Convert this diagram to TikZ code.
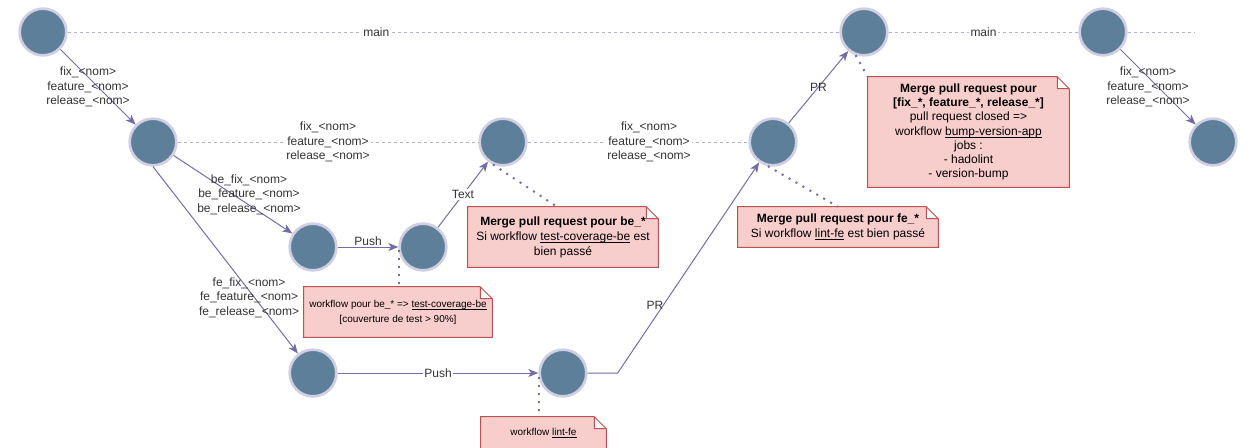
\documentclass[tikz,border=0pt]{standalone}
\usepackage{fontspec}
\setmainfont{Liberation Sans}
\usetikzlibrary{arrows.meta,calc,backgrounds}

\definecolor{commitfill}{HTML}{5D7F99}
\definecolor{commitline}{HTML}{D0CEE2}
\definecolor{flowline}{HTML}{736CA8}
\definecolor{branchline}{HTML}{B3ADD8}
\definecolor{notefill}{HTML}{F8CECC}
\definecolor{noteline}{HTML}{B85450}
\definecolor{labeltext}{HTML}{333333}

\newcommand{\wfname}[1]{\underline{\smash{#1}}}

\begin{document}
\begin{tikzpicture}[x=0.75pt, y=-0.75pt,
	commit/.style={draw=commitline, line width=2pt, circle, fill=commitfill, minimum size=35pt, inner sep=0pt},
	flow/.style={draw=flowline, line width=0.75pt, -{Stealth[length=7.5pt,width=6pt,inset=2pt]}},
	branch/.style={draw=branchline, line width=0.75pt, dash pattern=on 2.25pt off 2.25pt},
	link/.style={draw=flowline, line width=1.5pt, dash pattern=on 1.5pt off 4.5pt},
	lbl/.style={align=center, text=labeltext, font=\fontsize{9}{10.9}\selectfont, inner sep=1pt},
	note/.style={align=center, inner sep=0pt, font=\fontsize{9}{11.25}\selectfont},
	notebox/.style={fill=notefill, draw=noteline, line width=0.75pt}]
	\useasboundingbox (0,0) rectangle (1258,447);
	\clip (0,0) rectangle (1258,447);

	\node[commit] (1) at (43, 32) {};
	\node[commit] (2) at (153, 142) {};
	\node[commit] (3) at (313, 247) {};
	\node[commit] (4) at (423, 247) {};
	\node[commit] (5) at (503, 142) {};
	\node[commit] (6) at (313, 373) {};
	\node[commit] (7) at (563, 373) {};
	\node[commit] (8) at (773, 142) {};
	\node[commit] (9) at (864, 32) {};
	\node[commit] (10) at (1103, 32) {};
	\node[commit] (11) at (1213, 142) {};
	\coordinate (12) at (1195, 32);

	\draw[branch] (1) -- (9) node[pos=0.4, lbl, fill=white]		{main};
	\draw[branch] (9) -- (10) node[midway, lbl, fill=white]		{main};
	\draw[branch] (10) -- (12);
	\draw[branch] (2) -- (5) node[midway, lbl, fill=white]		{fix\_<nom>\\feature\_<nom>\\release\_<nom>};
	\draw[branch] (5) -- (8) node[pos=0.55, lbl, fill=white]	{fix\_<nom>\\feature\_<nom>\\release\_<nom>};

	\draw[flow] (1) -- (2) node[midway, lbl, xshift=-7.5pt]		{fix\_<nom>\\feature\_<nom>\\release\_<nom>};
	\draw[flow] (2) -- (3) node[midway, lbl, xshift=12pt]		{be\_fix\_<nom>\\be\_feature\_<nom>\\be\_release\_<nom>};
	\draw[flow] (2.south) -- (6) node[pos=0.7, lbl, xshift=-4pt]	{fe\_fix\_<nom>\\fe\_feature\_<nom>\\fe\_release\_<nom>};
	\draw[flow] (3) -- (4) node[midway, lbl, above]			{Push};
	\draw[flow] (4) -- (5) node[midway, lbl, fill=white]		{Text};
	\draw[flow] (6) -- (7) node[midway, lbl, fill=white]		{Push};
	\draw[flow] (7.east) -- ++(30,0) -- (8) node[pos=0.32, lbl, xshift=-6pt]	{PR};
	\draw[flow] (8) -- (9) node[midway, lbl]			{PR};
	\draw[flow] (10) -- (11) node[midway, lbl, xshift=-7.5pt]	{fix\_<nom>\\feature\_<nom>\\release\_<nom>};

	\node[note, minimum width=142.5pt, minimum height=45pt] (n1) at (563, 237)
		{\textbf{Merge pull request pour be\_*}\\Si workflow \wfname{test-coverage-be} est\\bien passé};
	\node[note, minimum width=141pt, minimum height=37.5pt, font=\fontsize{7.5}{11.25}\selectfont] (n2) at (398, 312)
		{workflow pour be\_* => \wfname{test-coverage-be}\\{}[couverture de test > 90\%]};
	\node[note, minimum width=93.75pt, minimum height=24pt, font=\fontsize{7.5}{9}\selectfont] (n3) at (543.5, 433)
		{workflow \wfname{lint-fe}};
	\node[note, minimum width=150pt, minimum height=30pt] (n4) at (838, 227)
		{\textbf{Merge pull request pour fe\_*}\\Si workflow \wfname{lint-fe} est bien passé};
	\node[note, minimum width=150.75pt, minimum height=82.5pt, font=\fontsize{9}{10.7}\selectfont] (n5) at (968.5, 132)
		{\textbf{Merge pull request pour}\\\textbf{[fix\_*, feature\_*, release\_*]}\\pull request closed =>\\workflow \wfname{bump-version-app}\\jobs :\\- hadolint\\- version-bump};

	\draw[link] (5.246) -- ([xshift=-4.5pt]n1.north);
	\draw[link] (4.187) -- (4.187 |- n2.north);
	\draw[link] (7.190) -- (7.190 |- n3.north);
	\draw[link] (8.258) -- (n4.north);
	\draw[link] (9.250) -- (n5.north west);

	\begin{scope}[on background layer]
		\foreach \n in {n1,n2,n3,n4,n5}
			\filldraw[notebox] (\n.south west) -- (\n.north west) -- ($(\n.north east)+(-12,0)$) -- ($(\n.north east)+(0,12)$) -- (\n.south east) -- cycle
				($(\n.north east)+(-12,0)$) -- ($(\n.north east)+(-12,12)$) -- ($(\n.north east)+(0,12)$);
	\end{scope}
\end{tikzpicture}
\end{document}
